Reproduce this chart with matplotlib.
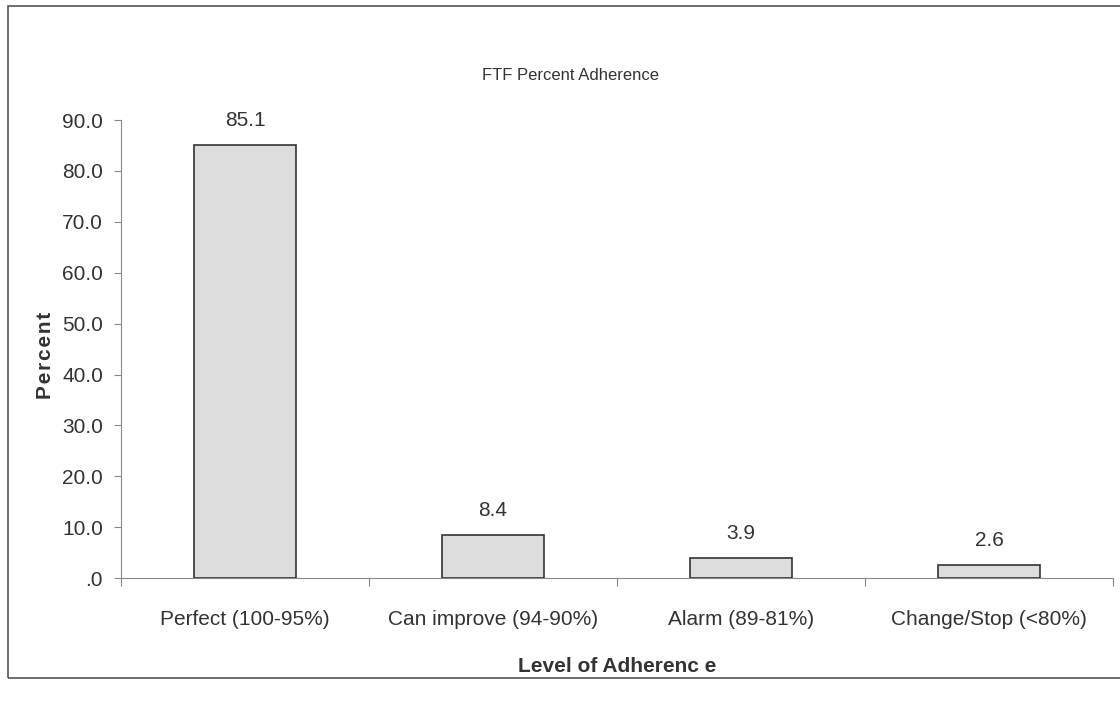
import matplotlib.pyplot as plt
from matplotlib.patches import Rectangle
from matplotlib.ticker import FuncFormatter

plt.rcParams['font.family'] = ['Liberation Sans', 'DejaVu Sans']

categories = ['Perfect (100-95%)', 'Can improve (94-90%)', 'Alarm (89-81%)', 'Change/Stop (<80%)']
percent = [85.1, 8.4, 3.9, 2.6]
yticks = [0, 10, 20, 30, 40, 50, 60, 70, 80, 90]

fig = plt.figure(figsize=(11.2, 7.06), dpi=100)
ax = fig.add_axes([0.108, 0.181, 0.886, 0.649])

# outer frame of the chart
fig.patches.append(Rectangle((0.007, 0.04), 1.1, 0.952, transform=fig.transFigure,
                             fill=False, edgecolor='#555555', linewidth=1.2))

x = list(range(len(categories)))
ax.bar(x, percent, width=0.41, color='#dcdcdc', edgecolor='#333333', linewidth=1.2, zorder=2)
for xi, v in zip(x, percent):
    ax.annotate(f'{v:.1f}', (xi, v), xytext=(0, 11), textcoords='offset points',
                ha='center', va='bottom', fontsize=15, color='#333333')

ax.set_xlim(-0.5, 3.5)
ax.set_ylim(0, 90)
ax.set_yticks(yticks)
ax.yaxis.set_major_formatter(FuncFormatter(lambda v, p: '.0' if v == 0 else f'{v:.1f}'))
ax.set_xticks([i - 0.5 for i in range(len(categories) + 1)])
ax.set_xticklabels([])
ax.set_xticks(x, minor=True)
ax.set_xticklabels(categories, minor=True)
ax.tick_params(axis='x', which='minor', length=0, pad=23, labelsize=15, labelcolor='#333333')
ax.tick_params(axis='x', which='major', length=6, color='#888888')
ax.tick_params(axis='y', length=5, color='#888888', labelsize=15, labelcolor='#333333', pad=8)

for s in ['top', 'right']:
    ax.spines[s].set_visible(False)
for s in ['left', 'bottom']:
    ax.spines[s].set_color('#888888')

hs = '\u200a'
ax.set_ylabel(hs.join('Percent'), fontsize=15, fontweight='bold', color='#333333')
ax.yaxis.set_label_coords(-0.066, 0.487)
ax.set_xlabel('Level of Adherenc e', fontsize=15, fontweight='bold', color='#333333', labelpad=20)
fig.text(0.509, 0.893, 'FTF Percent Adherence', ha='center', va='center', fontsize=12, color='#333333')

fig.savefig('out.png', dpi=100)
